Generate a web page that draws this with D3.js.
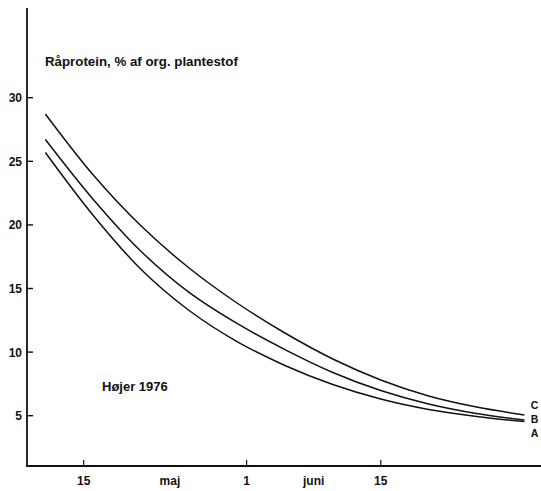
<!DOCTYPE html>
<html>
<head>
<meta charset="utf-8">
<script src="https://cdn.jsdelivr.net/npm/d3@7"></script>
<style>
  html, body { margin: 0; padding: 0; background: #fff; }
  svg { display: block; }
  text { font-family: "Liberation Sans", Arial, Helvetica, sans-serif; font-weight: bold; fill: #111; }
</style>
</head>
<body>
<svg id="chart" width="541" height="491"></svg>
<script>
// ---- data ----
const dates = ["1976-05-11","1976-05-16","1976-05-21","1976-05-26","1976-05-31","1976-06-05",
               "1976-06-10","1976-06-15","1976-06-20","1976-06-25","1976-06-30"];
const seriesA = [25.69, 20.74, 16.49, 13.27, 10.83, 8.95, 7.45, 6.31, 5.49, 4.94, 4.54];
const seriesB = [26.71, 22.00, 17.91, 14.69, 12.25, 10.20, 8.40, 6.98, 5.92, 5.17, 4.66];
const seriesC = [28.72, 23.92, 19.91, 16.61, 13.86, 11.50, 9.46, 7.81, 6.55, 5.68, 5.06];
const seriesNames = ["A", "B", "C"];
const yTicks = [5, 10, 15, 20, 25, 30];
const xTickDates = ["1976-05-15", "1976-06-01", "1976-06-15"];
const xTickLabels = ["15", "1", "15"];
const monthDates = ["1976-05-24", "1976-06-08"];
const monthLabels = ["maj", "juni"];
const yTitle = "Råprotein, % af org. plantestof";
const note = "Højer 1976";

// ---- layout ----
const svg = d3.select("#chart");
const parse = d3.utcParse("%Y-%m-%d");
const dayMs = 864e5;
const may1 = Date.UTC(1976, 4, 1);
const x = d3.scaleUtc()
  .domain([new Date(may1 + 8 * dayMs), new Date(may1 + 63 * dayMs)])
  .range([26.2, 553.2]);
const y = d3.scaleLinear().domain([5, 30]).range([415.7, 97.7]);

const axisX0 = 27, axisX1 = 541, axisY0 = 8, axisY1 = 466;

// axes lines
svg.append("line").attr("x1", axisX0).attr("x2", axisX0).attr("y1", axisY0).attr("y2", axisY1 + 1)
  .attr("stroke", "#111").attr("stroke-width", 1.8);
svg.append("line").attr("x1", axisX0 - 1).attr("x2", axisX1).attr("y1", axisY1).attr("y2", axisY1)
  .attr("stroke", "#111").attr("stroke-width", 1.8);

// y ticks
const yg = svg.append("g");
yTicks.forEach(v => {
  yg.append("line").attr("x1", axisX0).attr("x2", axisX0 + 6).attr("y1", y(v)).attr("y2", y(v))
    .attr("stroke", "#111").attr("stroke-width", 1.4);
  yg.append("text").attr("x", 22).attr("y", y(v) + 4.5).attr("text-anchor", "end")
    .attr("font-size", 12).text(v);
});

// x ticks
xTickDates.forEach((d, i) => {
  const px = x(parse(d));
  svg.append("line").attr("x1", px).attr("x2", px).attr("y1", axisY1).attr("y2", axisY1 - 6)
    .attr("stroke", "#111").attr("stroke-width", 1.2);
  svg.append("text").attr("x", px).attr("y", 485).attr("text-anchor", "middle")
    .attr("font-size", 12).text(xTickLabels[i]);
});
monthDates.forEach((d, i) => {
  svg.append("text").attr("x", x(parse(d))).attr("y", 485).attr("text-anchor", "middle")
    .attr("font-size", 12).text(monthLabels[i]);
});

// curves
const line = d3.line()
  .x((d, i) => x(parse(dates[i])))
  .y(d => y(d))
  .curve(d3.curveCatmullRom.alpha(0.5));
[seriesA, seriesB, seriesC].forEach(s => {
  svg.append("path").attr("d", line(s)).attr("fill", "none")
    .attr("stroke", "#111").attr("stroke-width", 1.5);
});

// curve labels
const labelDy = { A: 15, B: 2.7, C: -5.7 };
[seriesA, seriesB, seriesC].forEach((s, i) => {
  const name = seriesNames[i];
  svg.append("text").attr("x", x(parse(dates[dates.length - 1])) + 10).attr("y", y(s[s.length - 1]) + labelDy[name])
    .attr("text-anchor", "middle").attr("font-size", 10.5).text(name);
});

// titles
svg.append("text").attr("x", 45).attr("y", 66).attr("font-size", 13.3).text(yTitle);
svg.append("text").attr("x", 102).attr("y", 391).attr("font-size", 13).text(note);
</script>
</body>
</html>
